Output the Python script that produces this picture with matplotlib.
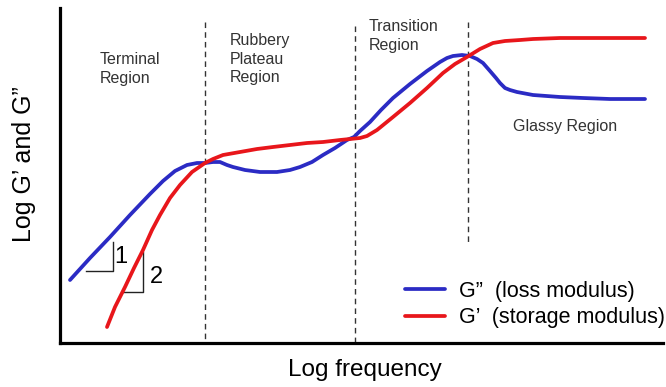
import numpy as np
import matplotlib
matplotlib.use("Agg")
import matplotlib.pyplot as plt

plt.rcParams["font.family"] = ["Liberation Sans", "DejaVu Sans"]

# values, in image pixels (x to the right, y downwards)
loss_x = [70, 90, 110, 130, 150, 163, 175, 187, 197, 205, 213, 220, 227, 233, 245,
          260, 277, 290, 300, 312, 323, 335, 347, 354, 360, 370, 381, 393, 410, 427,
          440, 447, 453, 462, 470, 477, 483, 490, 496, 500, 505, 510, 517, 533, 560,
          583, 610, 645]
loss_y = [280, 258, 237, 215, 194, 181, 171, 165, 163, 163, 162, 162, 165, 167, 170,
          172, 172, 170, 167, 162, 155, 148, 140, 137, 131, 122, 110, 98, 84, 71,
          62, 58, 56, 55, 56, 59, 63, 71, 78, 83, 88, 90, 92, 95, 97,
          98, 99, 99]

storage_x = [107, 115, 125, 134, 143, 152, 160, 170, 180, 192, 205, 213, 223, 240,
             257, 273, 290, 307, 323, 340, 350, 360, 367, 377, 393, 410, 427, 443,
             455, 467, 480, 493, 505, 520, 533, 560, 600, 645]
storage_y = [327, 307, 287, 268, 250, 230, 215, 198, 185, 172, 163, 159, 155, 152,
             149, 147, 145, 143, 142, 140, 139, 138, 136, 130, 117, 103, 88, 73,
             64, 57, 49, 43, 41, 40, 39, 38, 38, 38]

# region boundaries: x, top of the dashed line
bounds_x = [205, 355, 468]
bounds_top = [22, 26, 22]

regions = ["Terminal\nRegion", "Rubbery\nPlateau\nRegion", "Transition\nRegion", "Glassy Region"]
region_xy = [(100, 52), (230, 33), (369, 19), (513, 127)]

H = 387
BLUE = "#2b2bc4"
RED = "#e8161b"


def lvl(ys):
    return H - np.asarray(ys, dtype=float)


fig = plt.figure(figsize=(6.66, 3.87), dpi=100)
ax = fig.add_axes([60 / 666, (H - 343) / H, (663 - 60) / 666, (343 - 8) / H])
ax.set_xlim(60, 663)
ax.set_ylim(H - 343, H - 8)

ax.plot(loss_x, lvl(loss_y), color=BLUE, lw=2.7, solid_capstyle="round",
        solid_joinstyle="round", label="G\u201d  (loss modulus)", zorder=3)
ax.plot(storage_x, lvl(storage_y), color=RED, lw=2.7, solid_capstyle="round",
        solid_joinstyle="round", label="G\u2019  (storage modulus)", zorder=3)

for bx, top in zip(bounds_x, bounds_top):
    bottom = 243 if bx == 468 else 343
    ax.plot([bx, bx], lvl([top, bottom]), color="#333333", lw=1.0,
            dashes=(4, 3), zorder=2)

for i, (tx, ty) in enumerate(region_xy):
    va = "center" if i == 3 else "top"
    ax.text(tx, H - ty, regions[i], fontsize=11.5, color="#333333", ha="left",
            va=va, linespacing=1.3)

# slope triangles
ax.plot([86, 113, 113], lvl([271, 271, 242]), color="#222222", lw=1.0)
ax.plot([123, 143, 143], lvl([292, 292, 252]), color="#222222", lw=1.0)
ax.text(114, H - 257, "1", fontsize=17, ha="left", va="center")
ax.text(150, H - 277, "2", fontsize=17, ha="left", va="center")

ax.legend(loc="upper left", bbox_to_anchor=((405 - 60) / 603, (343 - 281) / 335),
          frameon=False, fontsize=15.5, handlelength=1.85, handletextpad=0.65,
          labelspacing=0.25, borderpad=0, borderaxespad=0)

ax.set_xticks([])
ax.set_yticks([])
for side in ("top", "right"):
    ax.spines[side].set_visible(False)
for side in ("left", "bottom"):
    ax.spines[side].set_linewidth(2.3)

fig.text(365 / 666, 1 - 370 / H, "Log frequency", fontsize=17.5, ha="center", va="center")
fig.text(24 / 666, 1 - 164 / H, "Log G\u2019 and G\u201d", fontsize=18, rotation=90,
         ha="center", va="center")

fig.savefig("out.png", dpi=100)
plt.close(fig)
